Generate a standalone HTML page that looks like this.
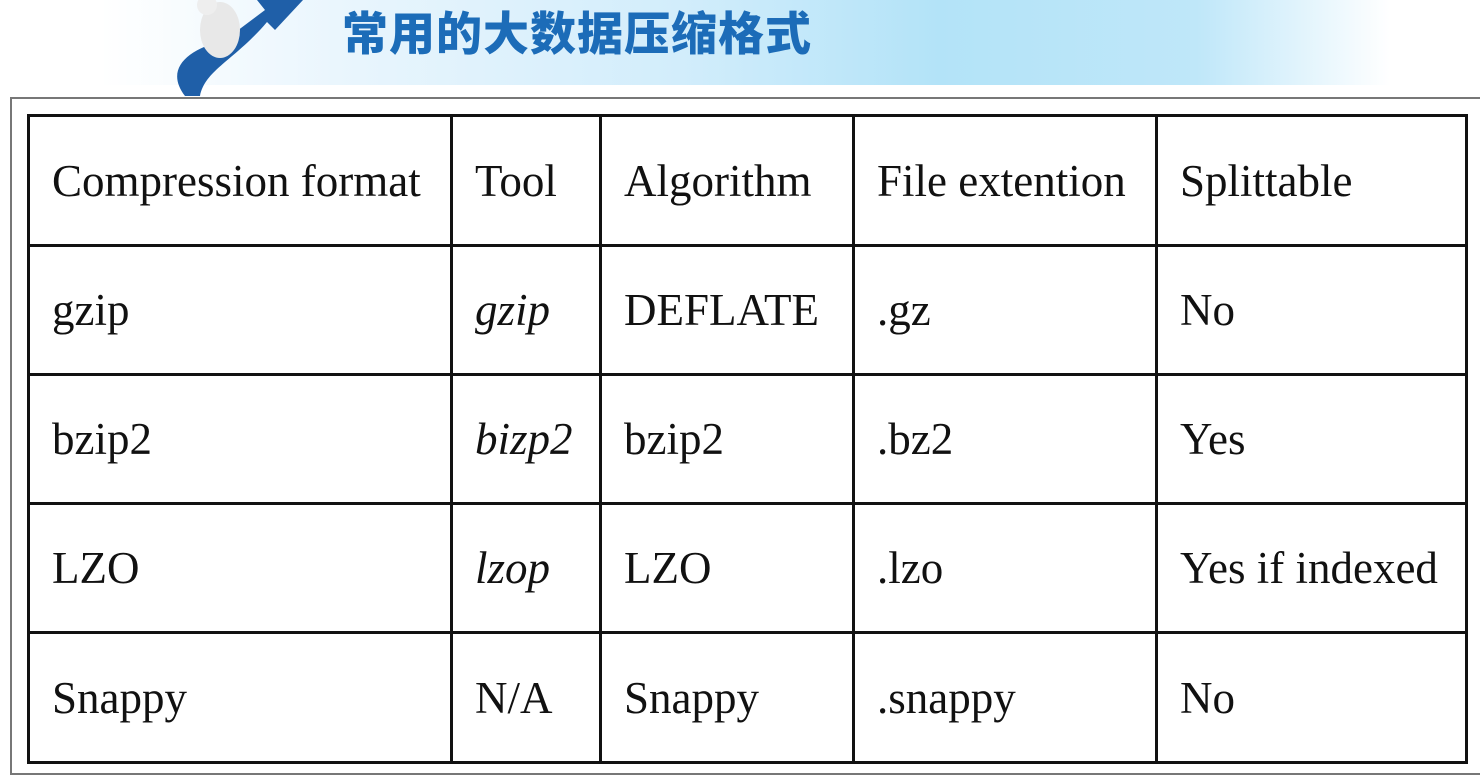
<!DOCTYPE html>
<html><head><meta charset="utf-8"><style>
body{margin:0;width:1480px;height:782px;background:#fff;position:relative;overflow:hidden}
.banner{position:absolute;left:100px;top:0;width:1290px;height:85px;background:linear-gradient(90deg,#fff 0%,#e8f5fd 20%,#d2edfb 45%,#b3e3f8 65%,#bfe7f9 85%,#fff 100%)}
.title{position:absolute;left:342px;top:-2px;font:900 46px "Noto Sans CJK SC",sans-serif;color:#1c6cb8;letter-spacing:1px}
.frame{position:absolute;left:10px;top:97px;width:1480px;height:678px;border:2px solid #777;box-sizing:border-box}
table{position:absolute;left:27px;top:114px;border-collapse:collapse;font:45px "Liberation Serif",serif;color:#111}
td{border:3px solid #111;height:129px;padding:0 0 0 22px;box-sizing:border-box;vertical-align:middle}
i{font-style:italic}
</style></head><body>
<div class="banner"></div>
<svg style="position:absolute;left:145px;top:0" width="160" height="98"><path d="M40 96 C20 70 40 50 80 40 L120 10 L112 0 L158 0 L130 30 L122 22 C90 60 60 70 55 96Z" fill="#1f5fa8"/><ellipse cx="75" cy="30" rx="20" ry="28" fill="#e8e8e8"/><circle cx="62" cy="5" r="10" fill="#eee"/></svg>
<div class="title">常用的大数据压缩格式</div>
<div class="frame"></div>
<table>
<tr><td style="width:423px;height:130px">Compression format</td><td style="width:149px">Tool</td><td style="width:253px">Algorithm</td><td style="width:303px">File extention</td><td style="width:310px">Splittable</td></tr>
<tr><td>gzip</td><td><i>gzip</i></td><td>DEFLATE</td><td>.gz</td><td>No</td></tr>
<tr><td>bzip2</td><td><i>bizp2</i></td><td>bzip2</td><td>.bz2</td><td>Yes</td></tr>
<tr><td>LZO</td><td><i>lzop</i></td><td>LZO</td><td>.lzo</td><td>Yes if indexed</td></tr>
<tr><td style="height:130px">Snappy</td><td>N/A</td><td>Snappy</td><td>.snappy</td><td>No</td></tr>
</table>
</body></html>
